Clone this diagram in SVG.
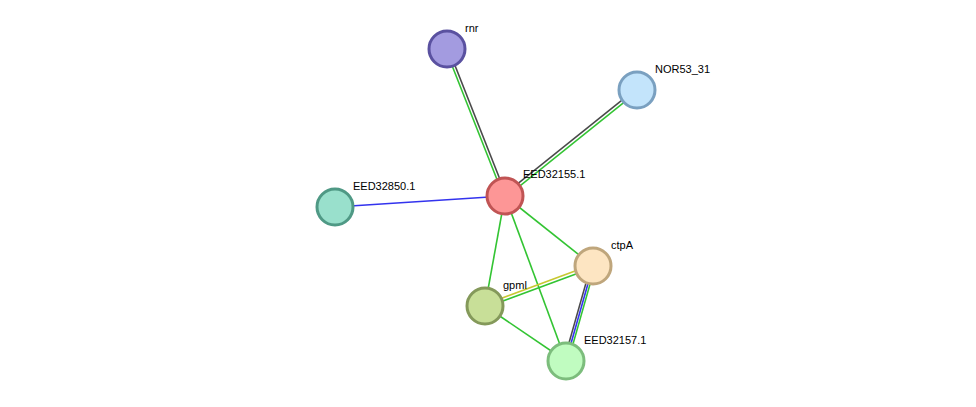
<svg xmlns="http://www.w3.org/2000/svg" width="976" height="407" viewBox="0 0 976 407">
<style>
.e{stroke-width:1.6;fill:none}
.g{stroke:#33c433}.k{stroke:#4a4a4a}.b{stroke:#3333ee}.y{stroke:#c8c832}
.n{stroke-width:3}
text{font-family:"Liberation Sans",Arial,sans-serif;font-size:11px;fill:#000}
</style>
<rect width="976" height="407" fill="#fff"/>
<g id="edges" class="e">
<line class="g" x1="445.5" y1="49" x2="503.5" y2="196"/>
<line class="k" x1="448.5" y1="49" x2="506.5" y2="196"/>
<line class="k" x1="636" y1="88.8" x2="504" y2="194.8"/>
<line class="g" x1="638" y1="91.2" x2="506" y2="197.2"/>
<line class="b" x1="335" y1="207" x2="505" y2="196"/>
<line class="g" x1="505" y1="196" x2="593" y2="266"/>
<line class="g" x1="505" y1="196" x2="485" y2="306"/>
<line class="g" x1="505" y1="196" x2="566" y2="361"/>
<line class="y" x1="592.5" y1="264.6" x2="484.5" y2="304.6"/>
<line class="g" x1="593.5" y1="267.4" x2="485.5" y2="307.4"/>
<line class="g" x1="485" y1="306" x2="566" y2="361"/>
<line class="k" x1="591" y1="265.4" x2="564" y2="360.4"/>
<line class="b" x1="593" y1="266" x2="566" y2="361"/>
<line class="g" x1="595" y1="266.6" x2="568" y2="361.6"/>
</g>
<g id="rnr"><circle class="n" cx="447" cy="49" r="18" fill="#a39be0" stroke="#5a51a0"/><text x="465" y="32">rnr</text></g>
<g id="NOR53_31"><circle class="n" cx="637" cy="90" r="18" fill="#c3e4fb" stroke="#7aa0c0"/><text x="655" y="73">NOR53_31</text></g>
<g id="EED32155.1"><circle class="n" cx="505" cy="196" r="18" fill="#fd9696" stroke="#c05454"/><text x="523" y="178">EED32155.1</text></g>
<g id="EED32850.1"><circle class="n" cx="335" cy="207" r="18" fill="#99e0cc" stroke="#4f9985"/><text x="353" y="190">EED32850.1</text></g>
<g id="ctpA"><circle class="n" cx="593" cy="266" r="18" fill="#fde5c2" stroke="#bfa67c"/><text x="611" y="249">ctpA</text></g>
<g id="gpml"><circle class="n" cx="485" cy="306" r="18" fill="#c8df98" stroke="#84995a"/><text x="503" y="289">gpml</text></g>
<g id="EED32157.1"><circle class="n" cx="566" cy="361" r="18" fill="#c0fcc0" stroke="#7cbd7c"/><text x="584" y="344">EED32157.1</text></g>
</svg>
